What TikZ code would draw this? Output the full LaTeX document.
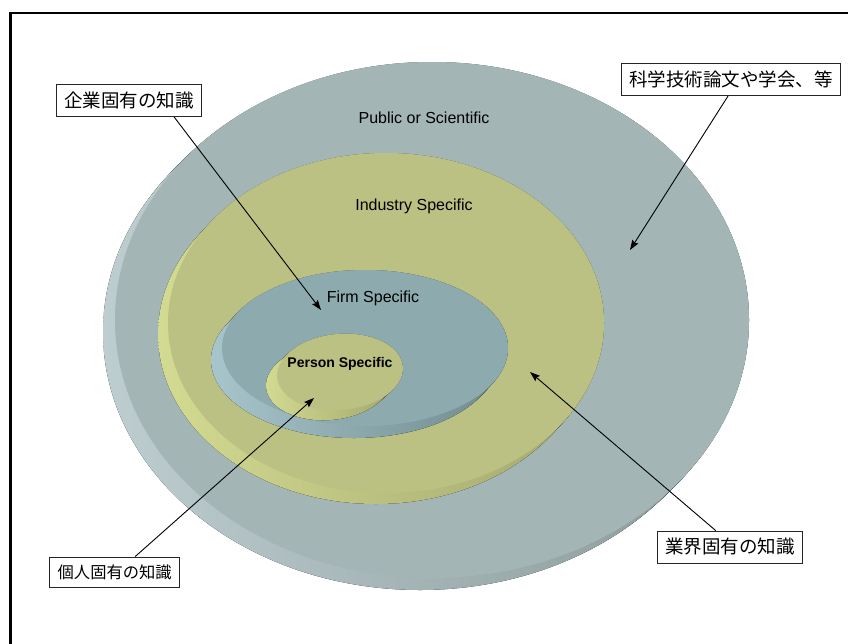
\documentclass[tikz,border=0pt]{standalone}
\usepackage{fontspec}
\setmainfont{Liberation Sans}
\newfontfamily\jpfont{Noto Sans CJK JP}
\usetikzlibrary{arrows.meta}
\definecolor{grayTop}{HTML}{A3B5B5}
\definecolor{grayL}{HTML}{BDCDD0}
\definecolor{grayD}{HTML}{8A9A9A}
\definecolor{yelTop}{HTML}{BAC183}
\definecolor{yelL}{HTML}{D3DA91}
\definecolor{yelD}{HTML}{A2A86E}
\definecolor{bluTop}{HTML}{8DABAE}
\definecolor{bluL}{HTML}{A8C5CC}
\definecolor{bluD}{HTML}{728C8F}
\tikzset{
  jbox/.style={draw=black!85, line width=0.8pt, fill=white, inner xsep=8pt, inner ysep=0pt,
    font=\jpfont\fontsize{18.5}{21}\selectfont, minimum height=32pt},
  jboxs/.style={jbox, font=\jpfont\fontsize{16.3}{19}\selectfont, minimum height=30pt},
  arr/.style={line width=0.9pt, -{Stealth[length=10pt,width=7pt,inset=1.5pt]}},
  lbl/.style={font=\fontsize{16}{19}\selectfont, inner sep=0pt},
  lblb/.style={font=\bfseries\fontsize{14}{17}\selectfont, inner sep=0pt},
}
\begin{document}
\begin{tikzpicture}[x=1pt,y=-1pt]
\useasboundingbox (0,0) rectangle (848,643);
\fill[white] (0,0) rectangle (848,643);
% frame
\draw[line width=2.4pt] (10.5,645) -- (10.5,13) -- (850,13);

% outer disc (Public or Scientific)
\foreach \t in {0,0.125,...,1}
  \fill[left color=grayL, middle color=grayD, right color=grayD] (432-12*\t,320+12*\t) ellipse [x radius=317, y radius=258];
\fill[grayTop] (432,320) ellipse [x radius=317, y radius=258];

% industry disc
\foreach \t in {0,0.125,...,1}
  \fill[left color=yelL, middle color=yelD, right color=yelD] (386-10*\t,323+11*\t) ellipse [x radius=218, y radius=170];
\fill[yelTop] (386,323) ellipse [x radius=218, y radius=170];

% firm disc
\foreach \t in {0,0.125,...,1}
  \fill[left color=bluL, middle color=bluD, right color=bluD] (365-11*\t,348+12*\t) ellipse [x radius=143, y radius=78];
\fill[bluTop] (365,348) ellipse [x radius=143, y radius=78];

% person disc
\begin{scope}[shift={(340,372)}, rotate=5]
\foreach \t in {0,0.125,...,1}
  \fill[left color=yelL, middle color=yelD, right color=yelD] (-12*\t,9*\t) ellipse [x radius=63, y radius=38];
\fill[yelTop] (0,0) ellipse [x radius=63, y radius=38];
\end{scope}

% disc labels
\node[lbl] (pub) at (424,118) {Public or Scientific};
\node[lbl] (ind) at (414,206) {Industry Specific};
\node[lbl] (firm) at (373,298) {Firm Specific};
\node[lblb] (pers) at (340,364) {Person Specific};

% callout boxes
\node[jbox] (kigyo) at (129,100.5) {企業固有の知識};
\node[jbox] (kagaku) at (731,79.5) {科学技術論文や学会、等};
\node[jboxs] (kojin) at (114.7,572) {個人固有の知識};
\node[jbox] (gyokai) at (730,547) {業界固有の知識};

% arrow targets
\coordinate (tKigyo) at (321,310);
\coordinate (tKagaku) at (630,250);
\coordinate (tKojin) at (314,398);
\coordinate (tGyokai) at (530,372);

\draw[arr] (kigyo.-20) -- (tKigyo);
\draw[arr] (kagaku.-100) -- (tKagaku);
\draw[arr] (kojin.37) -- (tKojin);
\draw[arr] (gyokai.131) -- (tGyokai);
\end{tikzpicture}
\end{document}
